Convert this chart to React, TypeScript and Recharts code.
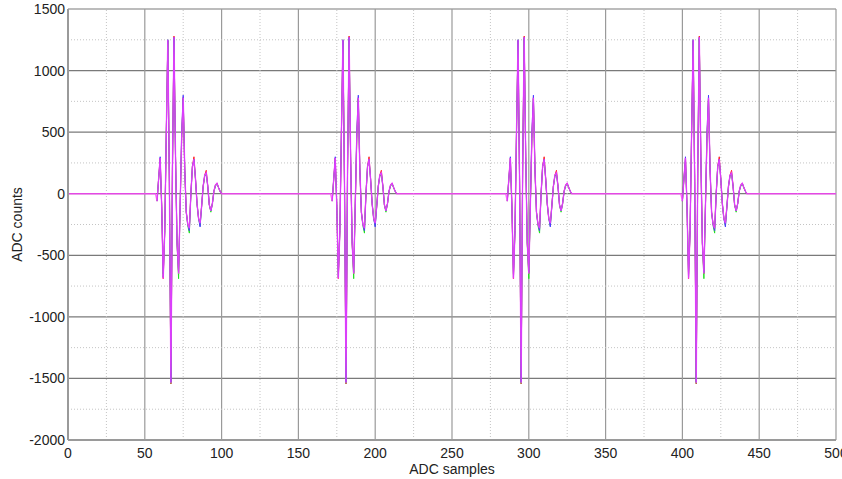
import React from "react";
import {
  LineChart,
  Line,
  XAxis,
  YAxis,
  CartesianGrid,
  ReferenceLine,
  Label,
} from "recharts";

// Sample window and axis ticks
const sampleCount = 500;
const xTicks = [0, 50, 100, 150, 200, 250, 300, 350, 400, 450, 500];
const xMinorTicks = [25, 75, 125, 175, 225, 275, 325, 375, 425, 475];
const yTicks = [-2000, -1500, -1000, -500, 0, 500, 1000, 1500];
const yMinorTicks = [-1750, -1250, -750, -250, 250, 750, 1250];

// Sample index where each echo burst begins
const burstStarts = [58, 172, 286, 400];

// Echo waveform for each channel (ADC counts, one value per sample from the burst start)
const redBurst = [
  -60, 120, 290, -100, -690, -300, 500, 1240, 100, -1545, 200, 1280, 300, -400,
  -650, -100, 450, 780, 200, -150, -250, -280, 0, 220, 300, 120, -80, -200,
  -240, -100, 60, 150, 190, 60, -90, -140, -80, 20, 70, 85, 50, 20, 0,
];
const greenBurst = [
  -60, 120, 260, -100, -650, -300, 500, 1250, 100, -1540, 200, 1260, 300, -400,
  -690, -100, 450, 770, 200, -150, -260, -320, 0, 220, 270, 120, -80, -200,
  -260, -100, 60, 140, 160, 60, -90, -150, -80, 20, 60, 80, 50, 20, 0,
];
const blueBurst = [
  -60, 120, 300, -100, -680, -300, 500, 1250, 100, -1530, 200, 1270, 300, -400,
  -640, -100, 500, 800, 200, -150, -250, -300, 0, 220, 280, 120, -80, -200,
  -270, -100, 60, 150, 170, 60, -90, -140, -80, 20, 70, 85, 50, 20, 0,
];
const magentaBurst = [
  -60, 120, 290, -100, -690, -300, 500, 1250, 100, -1540, 200, 1270, 300, -400,
  -650, -100, 450, 780, 200, -150, -250, -280, 0, 220, 280, 120, -80, -200,
  -240, -100, 60, 150, 170, 60, -90, -140, -80, 20, 70, 85, 50, 20, 0,
];

// The magenta channel also carries the idle baseline between bursts
const channels = [
  { key: "ch1", color: "#ff2020", burst: redBurst, baseline: false, width: 1, opacity: 1 },
  { key: "ch2", color: "#20e020", burst: greenBurst, baseline: false, width: 1, opacity: 1 },
  { key: "ch3", color: "#4a3cff", burst: blueBurst, baseline: false, width: 1, opacity: 1 },
  { key: "ch4", color: "#ff3cff", burst: magentaBurst, baseline: true, width: 1.4, opacity: 0.8 },
];

function valueAt(burst: number[], x: number, baseline: boolean): number | null {
  for (const start of burstStarts) {
    const i = x - start;
    if (i >= 0 && i < burst.length) return burst[i];
  }
  return baseline ? 0 : null;
}

const rows = Array.from({ length: sampleCount + 1 }, (_, x) => {
  const row: Record<string, number | null> = { x };
  for (const c of channels) row[c.key] = valueAt(c.burst, x, c.baseline);
  return row;
});

const font = "'Liberation Sans', Arial, Helvetica, sans-serif";
const tickStyle = { fontSize: 14, fill: "#222", fontFamily: font };

export default function App() {
  return (
    <div style={{ position: "absolute", left: 0, top: 0, background: "#fff" }}>
      <LineChart
        width={842}
        height={479}
        data={rows}
        margin={{ top: 9, right: 6, bottom: 0, left: 0 }}
      >
        <CartesianGrid vertical={false} stroke="#7a7a7a" strokeWidth={1.2} />
        <CartesianGrid horizontal={false} stroke="#9a9a9a" strokeWidth={1.2} />
        {xMinorTicks.map((v) => (
          <ReferenceLine
            key={"xm" + v}
            x={v}
            stroke="#c4c4c4"
            strokeDasharray="1 2"
          />
        ))}
        {yMinorTicks.map((v) => (
          <ReferenceLine
            key={"ym" + v}
            y={v}
            stroke="#c4c4c4"
            strokeDasharray="1 2"
          />
        ))}
        <XAxis
          dataKey="x"
          type="number"
          domain={[0, 500]}
          ticks={xTicks}
          interval={0}
          height={39}
          tickLine={false}
          axisLine={{ stroke: "#9a9a9a", strokeWidth: 2 }}
          tick={tickStyle}
        >
          <Label
            value="ADC samples"
            position="insideBottom"
            offset={5}
            style={{ fontSize: 14, fill: "#222", fontFamily: font }}
          />
        </XAxis>
        <YAxis
          type="number"
          domain={[-2000, 1500]}
          ticks={yTicks}
          interval={0}
          width={68}
          tickLine={false}
          tickSize={1}
          tickMargin={2}
          axisLine={{ stroke: "#9a9a9a", strokeWidth: 2 }}
          tick={tickStyle}
        >
          <Label
            value="ADC counts"
            angle={-90}
            position="insideLeft"
            offset={17}
            style={{
              fontSize: 14,
              fill: "#222",
              fontFamily: font,
              textAnchor: "middle",
            }}
          />
        </YAxis>
        {channels.map((c) => (
          <Line
            key={c.key}
            dataKey={c.key}
            type="linear"
            stroke={c.color}
            strokeWidth={c.width}
            strokeOpacity={c.opacity}
            dot={false}
            activeDot={false}
            connectNulls={false}
            isAnimationActive={false}
          />
        ))}
      </LineChart>
    </div>
  );
}
